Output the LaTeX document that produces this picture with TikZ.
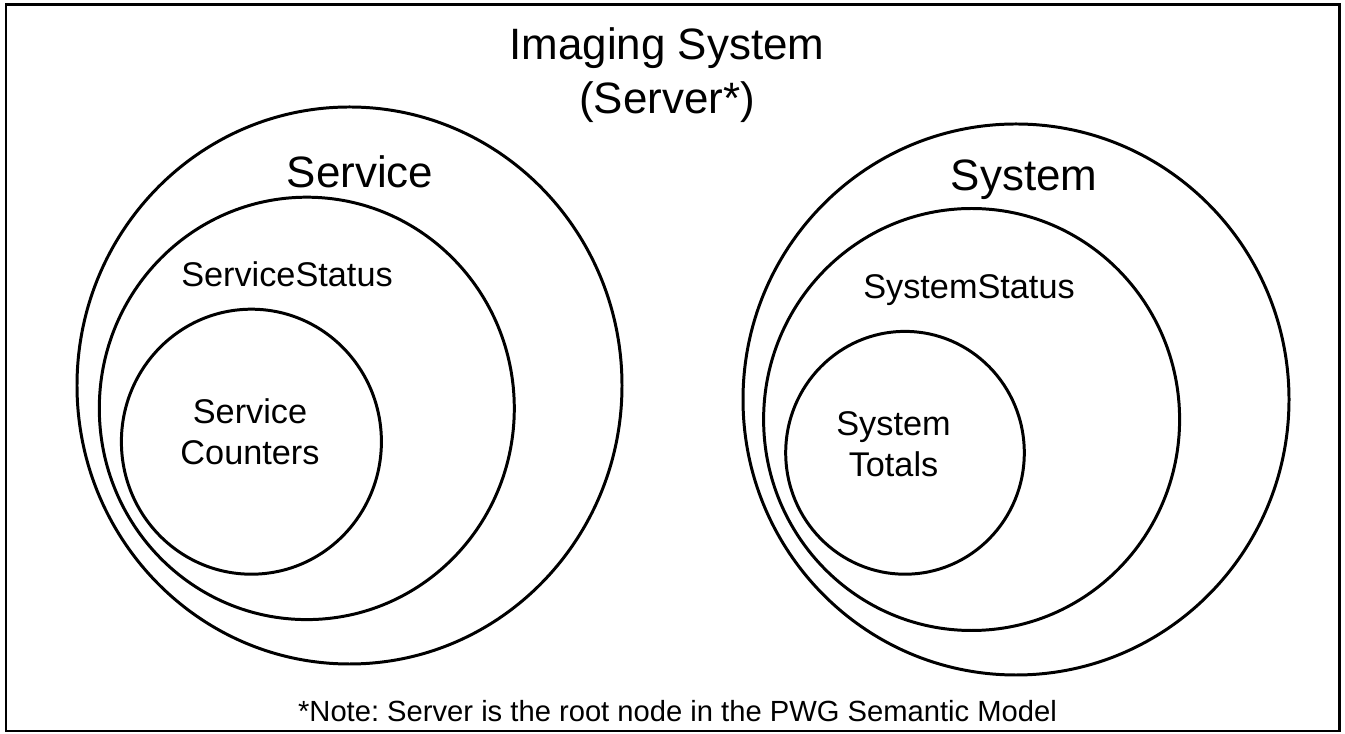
\documentclass[tikz,border=0pt]{standalone}
\usepackage{fontspec}
\setmainfont{Liberation Sans}
\tikzset{
	ring/.style={line width=0.85pt},
	headtext/.style={font=\fontsize{12.5}{15.4}\selectfont, align=center, anchor=base},
	statustext/.style={font=\fontsize{9.75}{11.8}\selectfont, align=center, anchor=base},
	notetext/.style={font=\fontsize{8.3}{10}\selectfont\frenchspacing, anchor=base},
}

\begin{document}
\begin{tikzpicture}[y=-1cm]
		%%%%% START %%%%%
		\useasboundingbox (0, 0) rectangle (13.45, 7.34);
		\draw[ring] (0.06, 0.05) rectangle (13.39, 7.31);
		
		% base anchor sits on the last line
		\node[headtext] (imaging) at (6.67, 1.14) {Imaging System\\(Server*)};
		
		% service side
		\draw[ring] (3.495, 3.855) ellipse (2.725 and 2.785);
		\draw[ring] (3.068, 4.084) ellipse (2.075 and 2.112);
		\draw[ring] (2.514, 4.417) ellipse (1.300 and 1.325);
		\node[headtext] (service) at (3.60, 1.88) {Service};
		\node[statustext] (servicestatus) at (2.87, 2.87) {ServiceStatus};
		\node[statustext] (servicecounters) at (2.50, 4.65) {Service\\Counters};
		
		% system side
		\draw[ring] (10.16, 3.995) ellipse (2.730 and 2.755);
		\draw[ring] (9.716, 4.195) ellipse (2.080 and 2.110);
		\draw[ring] (9.050, 4.528) ellipse (1.193 and 1.214);
		\node[headtext] (system) at (10.24, 1.91) {System};
		\node[statustext] (systemstatus) at (9.69, 2.985) {SystemStatus};
		\node[statustext] (systemtotals) at (8.935, 4.77) {System\\Totals};
		
		\node[notetext] (note) at (6.775, 7.22) {*Note: Server is the root node in the PWG Semantic Model};
		%%%%% END %%%%%
\end{tikzpicture}
\end{document}
